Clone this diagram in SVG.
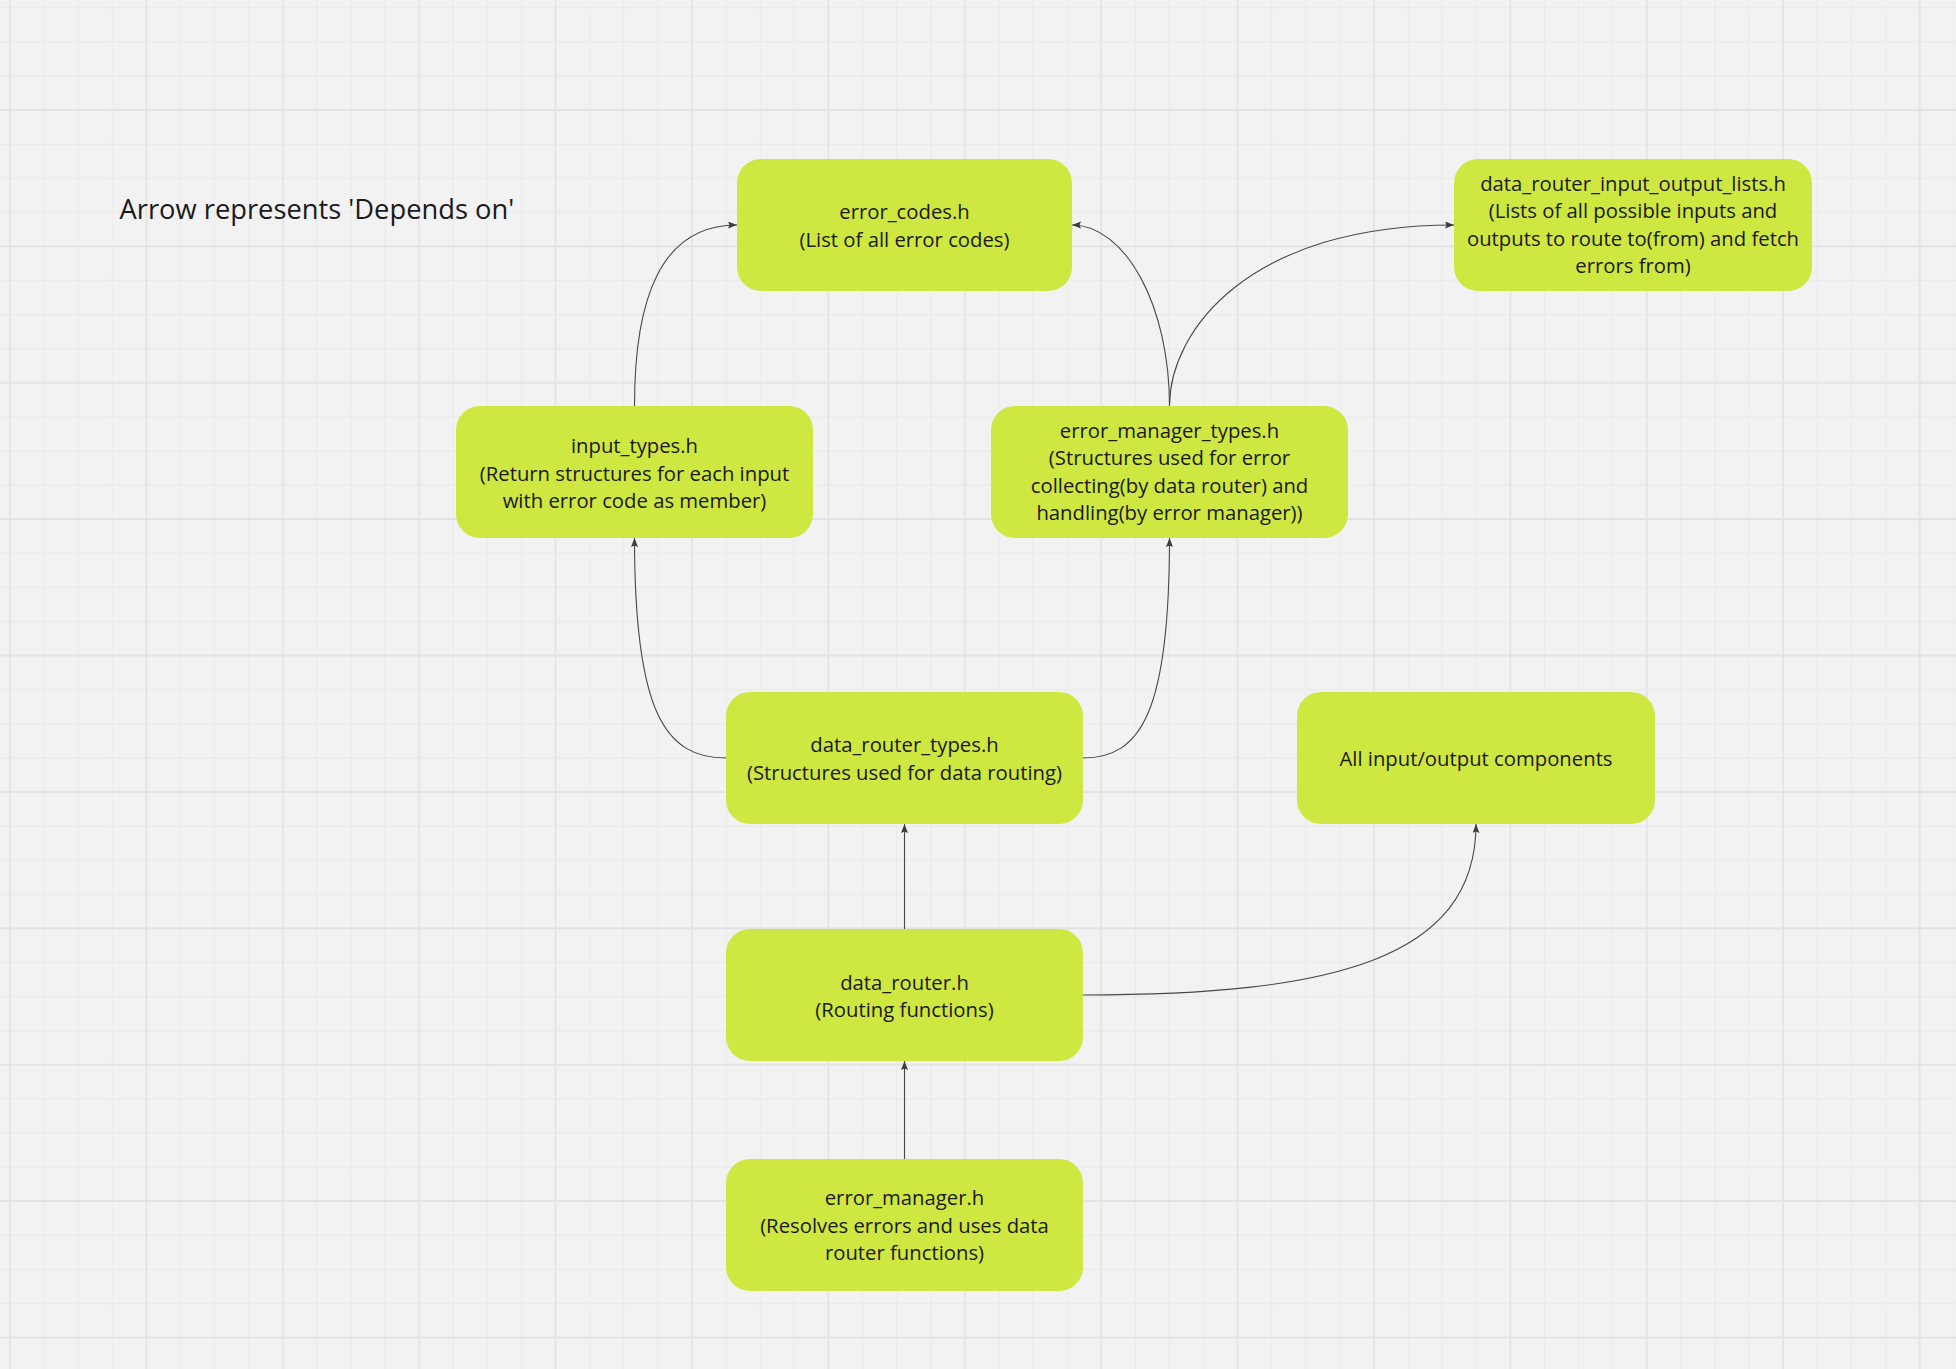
<svg xmlns="http://www.w3.org/2000/svg" width="1956" height="1369" viewBox="0 0 1956 1369">
  <defs>
    <!-- board grid: one major line every 4 minor cells -->
    <pattern id="grid" patternUnits="userSpaceOnUse" x="-7.05" y="92.95" width="136.4" height="136.4">
      <g stroke="#eaeaea" stroke-width="1">
        <line x1="51.15" y1="0" x2="51.15" y2="136.4"/>
        <line x1="85.25" y1="0" x2="85.25" y2="136.4"/>
        <line x1="119.35" y1="0" x2="119.35" y2="136.4"/>
        <line x1="0" y1="51.15" x2="136.4" y2="51.15"/>
        <line x1="0" y1="85.25" x2="136.4" y2="85.25"/>
        <line x1="0" y1="119.35" x2="136.4" y2="119.35"/>
      </g>
      <g stroke="#e1e1e1" stroke-width="1.5">
        <line x1="17.05" y1="0" x2="17.05" y2="136.4"/>
        <line x1="0" y1="17.05" x2="136.4" y2="17.05"/>
      </g>
    </pattern>
    <marker id="arrow" markerUnits="userSpaceOnUse" markerWidth="10" markerHeight="8" refX="9" refY="3.5" orient="auto">
      <path d="M0,0 L9,3.5 L0,7 L1.5,3.5 z" fill="#3c3c3c"/>
    </marker>
    <style>
      .node rect { fill: #cee741; }
      .node text { font-family: "Open Sans", "Noto Sans", "Liberation Sans", sans-serif; font-size: 20.3px; fill: #1a1a1a; text-anchor: middle; }
      .title { font-family: "Open Sans", "Noto Sans", "Liberation Sans", sans-serif; font-size: 27.3px; fill: #1a1a1a; }
      #connectors path { fill: none; stroke: #474747; stroke-width: 1.1; marker-end: url(#arrow); }
    </style>
  </defs>

  <rect x="0" y="0" width="1956" height="1369" fill="#f2f2f2"/>
  <rect x="0" y="0" width="1956" height="1369" fill="url(#grid)"/>

  <text class="title" x="119.5" y="218.5">Arrow represents 'Depends on'</text>

  <g id="connectors">
    <path d="M634.5,406 C634.5,300 660,225 737,225"/>
    <path d="M1169.5,406 C1169.5,305 1125,225 1072,225"/>
    <path d="M1169.5,406 C1169.5,330 1250,225 1454,225"/>
    <path d="M726,758 C665,758 634.5,712 634.5,538"/>
    <path d="M1083,758 C1141,758 1169.5,712 1169.5,538"/>
    <path d="M904.5,929 L904.5,824"/>
    <path d="M1083,995 C1330,995 1476,960 1476,824"/>
    <path d="M904.5,1159 L904.5,1061"/>
  </g>

  <g id="error_codes" class="node">
    <rect x="737" y="159" width="335" height="132" rx="24"/>
    <text x="904.5" y="219">error_codes.h</text>
    <text x="904.5" y="246.7">(List of all error codes)</text>
  </g>

  <g id="data_router_input_output_lists" class="node">
    <rect x="1454" y="159" width="358" height="132" rx="24"/>
    <text x="1633" y="190.8">data_router_input_output_lists.h</text>
    <text x="1633" y="218.3">(Lists of all possible inputs and</text>
    <text x="1633" y="245.8">outputs to route to(from) and fetch</text>
    <text x="1633" y="273.3">errors from)</text>
  </g>

  <g id="input_types" class="node">
    <rect x="456" y="406" width="357" height="132" rx="24"/>
    <text x="634.5" y="452.7">input_types.h</text>
    <text x="634.5" y="480.5">(Return structures for each input</text>
    <text x="634.5" y="508.3">with error code as member)</text>
  </g>

  <g id="error_manager_types" class="node">
    <rect x="991" y="406" width="357" height="132" rx="24"/>
    <text x="1169.5" y="437.8">error_manager_types.h</text>
    <text x="1169.5" y="465.3">(Structures used for error</text>
    <text x="1169.5" y="492.8">collecting(by data router) and</text>
    <text x="1169.5" y="520.3">handling(by error manager))</text>
  </g>

  <g id="data_router_types" class="node">
    <rect x="726" y="692" width="357" height="132" rx="24"/>
    <text x="904.5" y="752.3">data_router_types.h</text>
    <text x="904.5" y="780">(Structures used for data routing)</text>
  </g>

  <g id="all_io_components" class="node">
    <rect x="1297" y="692" width="358" height="132" rx="24"/>
    <text x="1476" y="766">All input/output components</text>
  </g>

  <g id="data_router" class="node">
    <rect x="726" y="929" width="357" height="132" rx="24"/>
    <text x="904.5" y="989.5">data_router.h</text>
    <text x="904.5" y="1017">(Routing functions)</text>
  </g>

  <g id="error_manager" class="node">
    <rect x="726" y="1159" width="357" height="132" rx="24"/>
    <text x="904.5" y="1205">error_manager.h</text>
    <text x="904.5" y="1232.7">(Resolves errors and uses data</text>
    <text x="904.5" y="1260.3">router functions)</text>
  </g>
</svg>
